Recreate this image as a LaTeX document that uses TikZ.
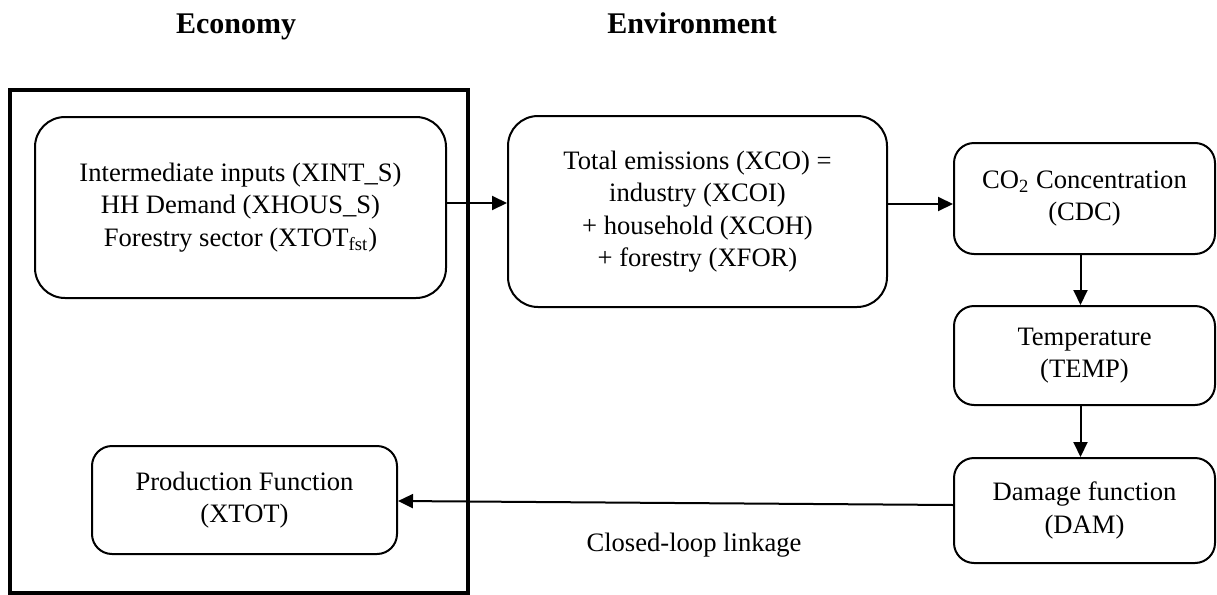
\documentclass[tikz,border=0pt]{standalone}
\usepackage{fontspec}
\setmainfont{Liberation Serif}
\usetikzlibrary{arrows.meta}
\definecolor{ink}{HTML}{000000}
\tikzset{
  box/.style={
    draw=ink,
    rounded corners=15pt,
    line width=1pt,
    align=center,
    inner sep=0pt,
    font=\fontsize{13.3}{16.2}\selectfont
  },
  smallbox/.style={
    box,
    rounded corners=10pt,
    minimum width=130.5pt
  },
  frame/.style={
    draw=ink,
    line width=1.7pt,
    inner sep=0pt
  },
  heading/.style={
    font=\fontsize{15}{18}\selectfont\bfseries,
    text=ink
  },
  arrow/.style={
    -{Triangle[length=7.5pt,width=7pt]},
    draw=ink,
    line width=1pt
  }
}

\begin{document}
\begin{tikzpicture}[x=0.5pt,y=-0.5pt]
  \useasboundingbox (0,0) rectangle (1217,595);

  \node[heading, anchor=base] (econtitle) at (236,33) {Economy};
  \node[heading, anchor=base] (envtitle) at (692,33) {Environment};

  \node[frame, minimum width=229pt, minimum height=251.5pt] (economy) at (239,341.5) {};

  \node[box, minimum width=205.5pt, minimum height=90.5pt] (inputs) at (240.5,207.5)
    {Intermediate inputs (XINT\_S)\\
     HH Demand (XHOUS\_S)\\
     Forestry sector (XTOT\textsubscript{fst})};

  \node[box, minimum width=189.5pt, minimum height=95.5pt] (emis) at (697.5,211.5)
    {Total emissions (XCO) =\\
     industry (XCOI)\\
     + household (XCOH)\\
     + forestry (XFOR)};

  \node[smallbox, minimum height=55.5pt] (cdc) at (1084.5,198.5)
    {CO\textsubscript{2} Concentration\\(CDC)};
  \node[smallbox, minimum height=49.5pt] (temp) at (1084.5,355.5)
    {Temperature\\(TEMP)};
  \node[smallbox, minimum height=52.5pt] (dam) at (1084.5,510.5)
    {Damage function\\(DAM)};

  \node[box, rounded corners=10pt, minimum width=152.5pt, minimum height=54pt] (prod) at (244.5,500)
    {Production Function\\(XTOT)};

  \node[font=\fontsize{13.3}{16.2}\selectfont, text=ink] (looplabel) at (694,545)
    {Closed-loop linkage};

  \draw[arrow] ([yshift=2.25pt]inputs.east) -- ([yshift=4.25pt]emis.west);
  \draw[arrow] ([yshift=3.75pt]emis.east) -- ([yshift=-2.75pt]cdc.west);
  \draw[arrow] ([xshift=-2pt]cdc.south) -- ([xshift=-2pt]temp.north);
  \draw[arrow] ([xshift=-2pt]temp.south) -- ([xshift=-2pt]dam.north);
  \draw[arrow] ([yshift=2.75pt]dam.west) -- ([yshift=-0.5pt]prod.east);
\end{tikzpicture}
\end{document}
